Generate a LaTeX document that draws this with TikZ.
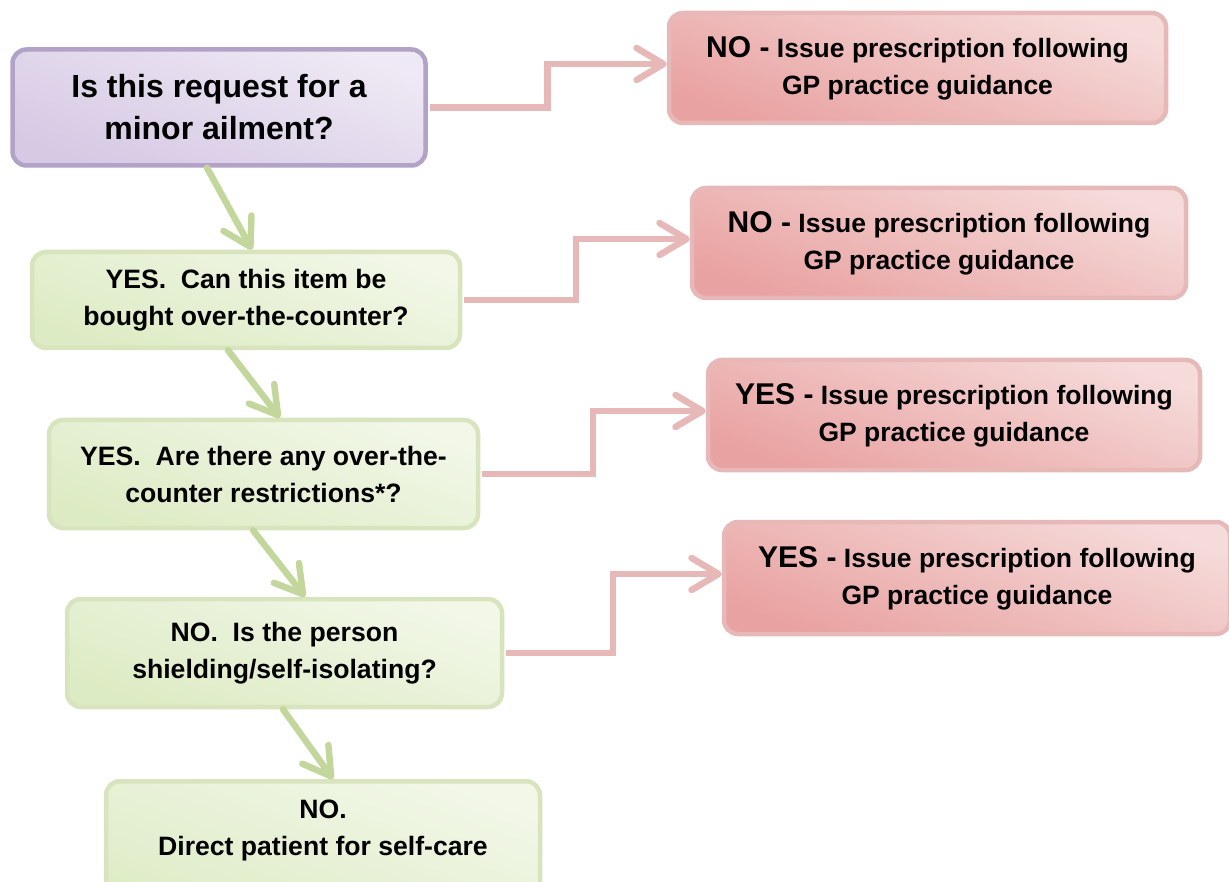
\documentclass[tikz,border=0pt]{standalone}
\usepackage{fontspec}
\setmainfont{Liberation Sans}
\usetikzlibrary{arrows.meta,calc}
\definecolor{qline}{HTML}{B3A2C7}
\definecolor{qtop}{HTML}{EEE9F4}
\definecolor{qbot}{HTML}{D6C9E4}
\definecolor{gline}{HTML}{D7E4BD}
\definecolor{gtop}{HTML}{F2F7E8}
\definecolor{gbot}{HTML}{DDEBC4}
\definecolor{rline}{HTML}{E6B9B8}
\definecolor{rtop}{HTML}{F5DBDA}
\definecolor{rbot}{HTML}{E8A2A1}
\definecolor{garr}{HTML}{C3D69B}
\newcommand{\qsz}{\fontsize{32}{42}\selectfont}
\newcommand{\gsz}{\fontsize{26.6}{37}\selectfont}
\newcommand{\rsz}{\fontsize{26.5}{37}\selectfont}
\newcommand{\ans}[1]{{\fontsize{30}{37}\selectfont #1}}

\begin{document}
\begin{tikzpicture}[
  x=1pt, y=-1pt,
  >={Straight Barb[length=27pt,width=32pt,round]},
  box/.style={rounded corners=14pt, line width=4.5pt, align=center, inner sep=2pt},
  quest/.style={box, draw=qline, top color=qtop, bottom color=qbot, shading angle=-20, font=\qsz\bfseries},
  gbox/.style={box, draw=gline, top color=gtop, bottom color=gbot, shading angle=-20, font=\gsz\bfseries},
  rbox/.style={box, draw=rline, top color=rtop, bottom color=rbot, shading angle=-20, font=\rsz\bfseries},
  redarr/.style={->, draw=rline, line width=6.5pt, shorten <=2pt},
  grnarr/.style={->, draw=garr, line width=6.5pt, line cap=round},
]
  \useasboundingbox (0,0) rectangle (1229,882);

  % ---------------- question column
  \node[quest, minimum width=413, minimum height=116] (q0) at (219,107.5)
    {Is this request for a\\minor ailment?};
  \node[gbox, minimum width=428, minimum height=96] (g1) at (246,300)
    {YES.~~Can this item be\\bought over-the-counter?};
  \node[gbox, minimum width=429, minimum height=108] (g2) at (263.5,474)
    {YES.~~Are there any over-the-\\counter restrictions*?};
  \node[gbox, minimum width=435, minimum height=108] (g3) at (284.5,653)
    {NO.~~Is the person\\shielding/self-isolating?};
  \node[gbox, minimum width=434, anchor=north, text depth=62pt, inner ysep=19pt] (g4) at (323,779)
    {NO.\\Direct patient for self-care};

  % ---------------- outcomes
  \node[rbox, minimum width=497, minimum height=110] (r1) at (917.5,68)
    {\ans{NO -} Issue prescription following\\GP practice guidance};
  \node[rbox, minimum width=494, minimum height=110] (r2) at (939,243)
    {\ans{NO -} Issue prescription following\\GP practice guidance};
  \node[rbox, minimum width=492, minimum height=110] (r3) at (954,415)
    {\ans{YES -} Issue prescription following\\GP practice guidance};
  \node[rbox, minimum width=506, minimum height=112] (r4) at (977,578)
    {\ans{YES -} Issue prescription following\\GP practice guidance};

  % ---------------- connectors
  \foreach \a/\b in {q0/r1, g1/r2, g2/r3, g3/r4}
    \draw[redarr] (\a.east) -| ($(\a.east)!.5!(\b.west)$) |- ([yshift=4pt]\b.west);
  \foreach \a/\b/\s/\t in {q0/g1/-12/6, g1/g2/-18/16.5, g2/g3/-10.5/20.5, g3/g4/-1.5/10}
    \draw[grnarr] ([xshift=\s pt]\a.south) -- ([xshift=\t pt]\b.north);
\end{tikzpicture}
\end{document}
